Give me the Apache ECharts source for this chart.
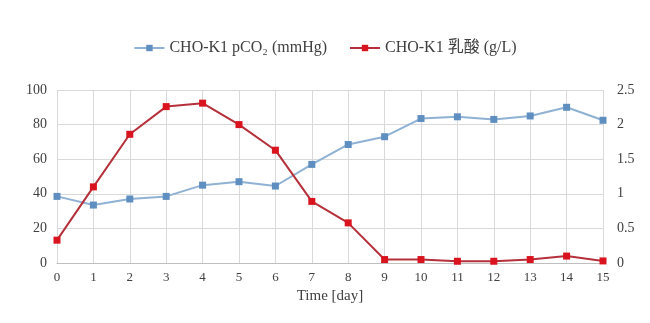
<!DOCTYPE html>
<html><head><meta charset="utf-8">
<script src="https://cdn.jsdelivr.net/npm/echarts@6/dist/echarts.min.js"></script>
<style>html,body{margin:0;padding:0;background:#fff}#c{width:650px;height:323px}</style>
</head><body><div id="c"></div>
<script>
const days = [0,1,2,3,4,5,6,7,8,9,10,11,12,13,14,15];
const pco2 = [38.5,33.5,37,38.5,45,47,44.5,57,68.5,73,83.5,84.5,83,85,90,82.5];
const lactate = [0.33,1.10,1.86,2.26,2.31,2.0,1.63,0.89,0.58,0.05,0.05,0.025,0.025,0.05,0.1,0.03];
const leftTicks = [0,20,40,60,80,100];
const rightTicks = [0,0.5,1,1.5,2,2.5];
const seriesNames = ['CHO-K1 pCO\u2082 (mmHg)','CHO-K1 乳酸 (g/L)'];

const font = '"Liberation Serif","DejaVu Serif","Noto Sans CJK SC",serif';
const chart = echarts.init(document.getElementById('c'));
chart.setOption({
  animation:false,
  textStyle:{fontFamily:font},
  legend:{top:35,left:'center',itemGap:22,itemWidth:30,itemHeight:8,
    textStyle:{fontFamily:font,fontSize:16,color:'#404040'},
    data:seriesNames},
  grid:{left:57,right:47,top:90,bottom:60},
  xAxis:{type:'value',min:0,max:15,interval:1,
    name:'Time [day]',nameLocation:'middle',nameGap:22,
    nameTextStyle:{fontFamily:font,fontSize:15,color:'#404040'},
    axisLine:{show:true,lineStyle:{color:'#bfbfbf'}},
    axisTick:{show:false},
    axisLabel:{fontFamily:font,fontSize:13,color:'#404040',margin:8},
    splitLine:{show:true,lineStyle:{color:'#d9d9d9'}}},
  yAxis:[
    {type:'value',min:0,max:100,interval:20,
      axisLine:{show:false},axisTick:{show:false},
      axisLabel:{fontFamily:font,fontSize:14,color:'#404040',margin:10,formatter:v=>leftTicks.includes(v)?String(v):''},
      splitLine:{show:true,lineStyle:{color:'#d9d9d9'}}},
    {type:'value',min:0,max:2.5,interval:0.5,
      axisLine:{show:false},axisTick:{show:false},
      axisLabel:{fontFamily:font,fontSize:14,color:'#404040',margin:14,formatter:v=>rightTicks.includes(v)?String(v):''},
      splitLine:{show:false}}
  ],
  series:[
    {name:seriesNames[0],type:'line',yAxisIndex:0,data:days.map((d,i)=>[d,pco2[i]]),
      symbol:'rect',symbolSize:7,
      lineStyle:{color:'#8fb1d3',width:2},itemStyle:{color:'#5f8fc0'}},
    {name:seriesNames[1],type:'line',yAxisIndex:1,data:days.map((d,i)=>[d,lactate[i]]),
      symbol:'rect',symbolSize:7,
      lineStyle:{color:'#b5303a',width:2},itemStyle:{color:'#d9141e'}}
  ]
});
</script></body></html>
